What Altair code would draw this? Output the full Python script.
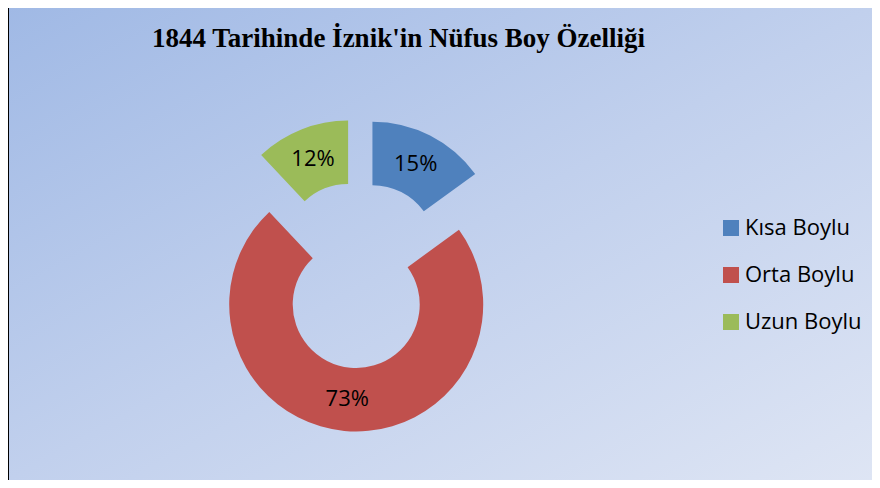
import altair as alt
import pandas as pd

# ---- data ----
categories = ["Kısa Boylu", "Orta Boylu", "Uzun Boylu"]
values = [15, 73, 12]
order = [0, 1, 2]
colors = ["#4f81bd", "#c0504d", "#9bbb59"]
title_text = "1844 Tarihinde İznik'in Nüfus Boy Özelliği"

# ---- layout ----
W, H = 864, 472
CX, CY = 351, 267
R_OUT, R_IN = 127, 63.5
EXPLODE = 29.6
R_LABEL = (R_OUT + R_IN) / 2

df = pd.DataFrame({"kategori": categories, "deger": values, "sira": order})

base = (
    alt.Chart(df)
    .transform_window(cum="sum(deger)", sort=[alt.SortField("sira")], frame=[None, 0])
    .transform_joinaggregate(total="sum(deger)")
    .transform_calculate(
        a0="2*PI*(datum.cum - datum.deger)/datum.total",
        a1="2*PI*datum.cum/datum.total",
    )
    .transform_calculate(mid="(datum.a0 + datum.a1)/2")
    .transform_calculate(
        cx=f"{CX} + {EXPLODE}*sin(datum.mid)",
        cy=f"{CY} - {EXPLODE}*cos(datum.mid)",
        pct="format(datum.deger/datum.total, '.0%')",
    )
    .transform_calculate(
        lx=f"datum.cx + {R_LABEL}*sin(datum.mid)",
        ly=f"datum.cy - {R_LABEL}*cos(datum.mid)",
    )
)

bg = alt.Chart(alt.Data(values=[{}])).mark_rect(
    fill=alt.Gradient(
        gradient="linear", x1=0, y1=0, x2=1, y2=1,
        stops=[
            alt.GradientStop(offset=0, color="#a0b9e5"),
            alt.GradientStop(offset=0.5, color="#c1d0ed"),
            alt.GradientStop(offset=1, color="#dee5f4"),
        ],
    )
).encode(x=alt.value(0), x2=alt.value(W), y=alt.value(0), y2=alt.value(H))

border = alt.Chart(alt.Data(values=[{}])).mark_rule(color="black", strokeWidth=2).encode(
    x=alt.value(0), y=alt.value(0), y2=alt.value(H)
)

arcs = base.mark_arc(innerRadius=R_IN, outerRadius=R_OUT).encode(
    x=alt.X("cx:Q", scale=None, axis=None),
    y=alt.Y("cy:Q", scale=None, axis=None),
    theta=alt.Theta("a0:Q", scale=None, stack=None),
    theta2="a1:Q",
    color=alt.Color(
        "kategori:N",
        scale=alt.Scale(domain=categories, range=colors),
        legend=alt.Legend(
            orient="none", legendX=712, legendY=209, title=None,
            symbolType="square", symbolSize=256, symbolStrokeWidth=0,
            labelFont="Open Sans", labelFontSize=22, labelColor="black",
            labelOffset=3, rowPadding=25, padding=0,
        ),
    ),
)

labels = base.mark_text(font="Open Sans", fontSize=22, color="black").encode(
    x=alt.X("lx:Q", scale=None, axis=None),
    y=alt.Y("ly:Q", scale=None, axis=None),
    text="pct:N",
)

chart = (
    alt.layer(bg, border, arcs, labels)
    .properties(
        width=W, height=H, padding=0, autosize="none",
        title=alt.Title(
            title_text, font="Liberation Serif", fontSize=27, fontWeight="bold",
            color="black", anchor="middle", frame="group", baseline="alphabetic",
            offset=-40, dx=-41.5, dy=27,
        ),
    )
    .configure_view(stroke=None)
)

chart.save("out.html", embed_options={"renderer": "svg", "actions": False})
